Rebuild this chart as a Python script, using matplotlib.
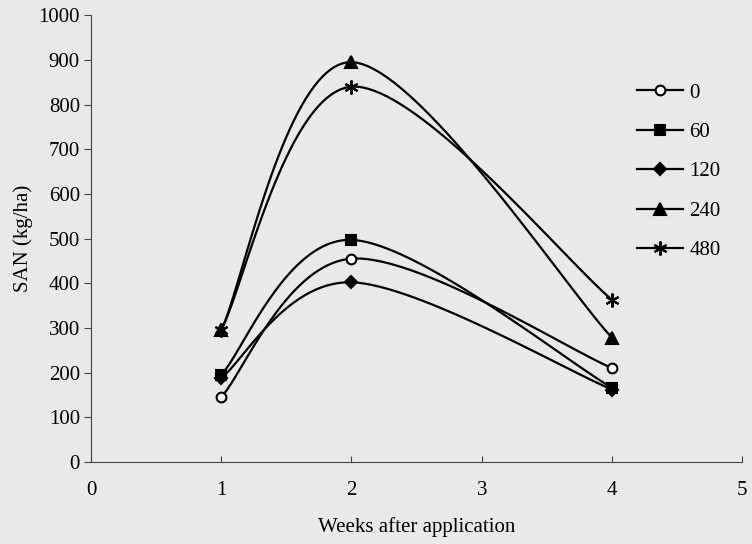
import numpy as np
import matplotlib
matplotlib.use('Agg')
import matplotlib.pyplot as plt

plt.rcParams['font.family'] = ['Liberation Serif', 'DejaVu Serif']

weeks = [1, 2, 4]
labels = ['0', '60', '120', '240', '480']
san_0 = [145, 455, 210]
san_60 = [195, 497, 166]
san_120 = [188, 402, 162]
san_240 = [295, 895, 278]
san_480 = [295, 840, 363]
series = [san_0, san_60, san_120, san_240, san_480]
markers = ['o', 's', 'D', '^', (6, 2, 0)]
fills = ['white', 'black', 'black', 'black', 'black']
msizes = [7, 7, 6, 8, 10]


def smooth(x, y, n=40):
    # excel-style smoothed line: cubic bezier with catmull-rom control points
    x = np.asarray(x, float)
    y = np.asarray(y, float)
    px = np.concatenate([[x[0]], x, [x[-1]]])
    py = np.concatenate([[y[0]], y, [y[-1]]])
    xs, ys = [], []
    t = np.linspace(0, 1, n)
    for i in range(1, len(px) - 2):
        p0 = np.array([px[i], py[i]])
        p3 = np.array([px[i + 1], py[i + 1]])
        c1 = p0 + (np.array([px[i + 1], py[i + 1]]) - np.array([px[i - 1], py[i - 1]])) / 6
        c2 = p3 - (np.array([px[i + 2], py[i + 2]]) - np.array([px[i], py[i]])) / 6
        b = ((1 - t) ** 3)[:, None] * p0 + (3 * (1 - t) ** 2 * t)[:, None] * c1 \
            + (3 * (1 - t) * t ** 2)[:, None] * c2 + (t ** 3)[:, None] * p3
        xs.extend(b[:, 0])
        ys.extend(b[:, 1])
    return xs, ys


fig = plt.figure(figsize=(7.52, 5.44), dpi=100)
fig.patch.set_facecolor('#e9e9e7')
ax = fig.add_axes([0.121, 0.151, 0.866, 0.821])
ax.set_facecolor('#e9e9e7')

handles = []
for vals, lab, m, fc, ms in zip(series, labels, markers, fills, msizes):
    sx, sy = smooth(weeks, vals)
    ax.plot(sx, sy, color='black', lw=1.6)
    ax.plot(weeks, vals, linestyle='none', marker=m, ms=ms, mfc=fc,
            mec='black', mew=1.5)
    h, = ax.plot([], [], color='black', lw=1.6, marker=m, ms=ms, mfc=fc,
                 mec='black', mew=1.5, label=lab)
    handles.append(h)

ax.set_xlim(0, 5)
ax.set_ylim(0, 1000)
ax.set_xticks(range(6))
ax.set_yticks(range(0, 1001, 100))
for s in ['top', 'right']:
    ax.spines[s].set_visible(False)
ax.spines['left'].set_color('#444444')
ax.spines['bottom'].set_color('#444444')
ax.tick_params(axis='y', direction='out', length=5, labelsize=15, color='#444444', pad=3)
ax.tick_params(axis='x', direction='in', length=4, labelsize=15, pad=14, color='#444444')
ax.set_ylabel('SAN (kg/ha)', fontsize=15, labelpad=4)
ax.set_xlabel('Weeks after application', fontsize=15, labelpad=12)

ax.legend(handles=handles, loc='upper left', bbox_to_anchor=(0.81, 0.89),
          frameon=False, fontsize=15, handlelength=2.2, handletextpad=0.3,
          labelspacing=0.95)

fig.savefig('out.png', dpi=100, facecolor=fig.get_facecolor())
